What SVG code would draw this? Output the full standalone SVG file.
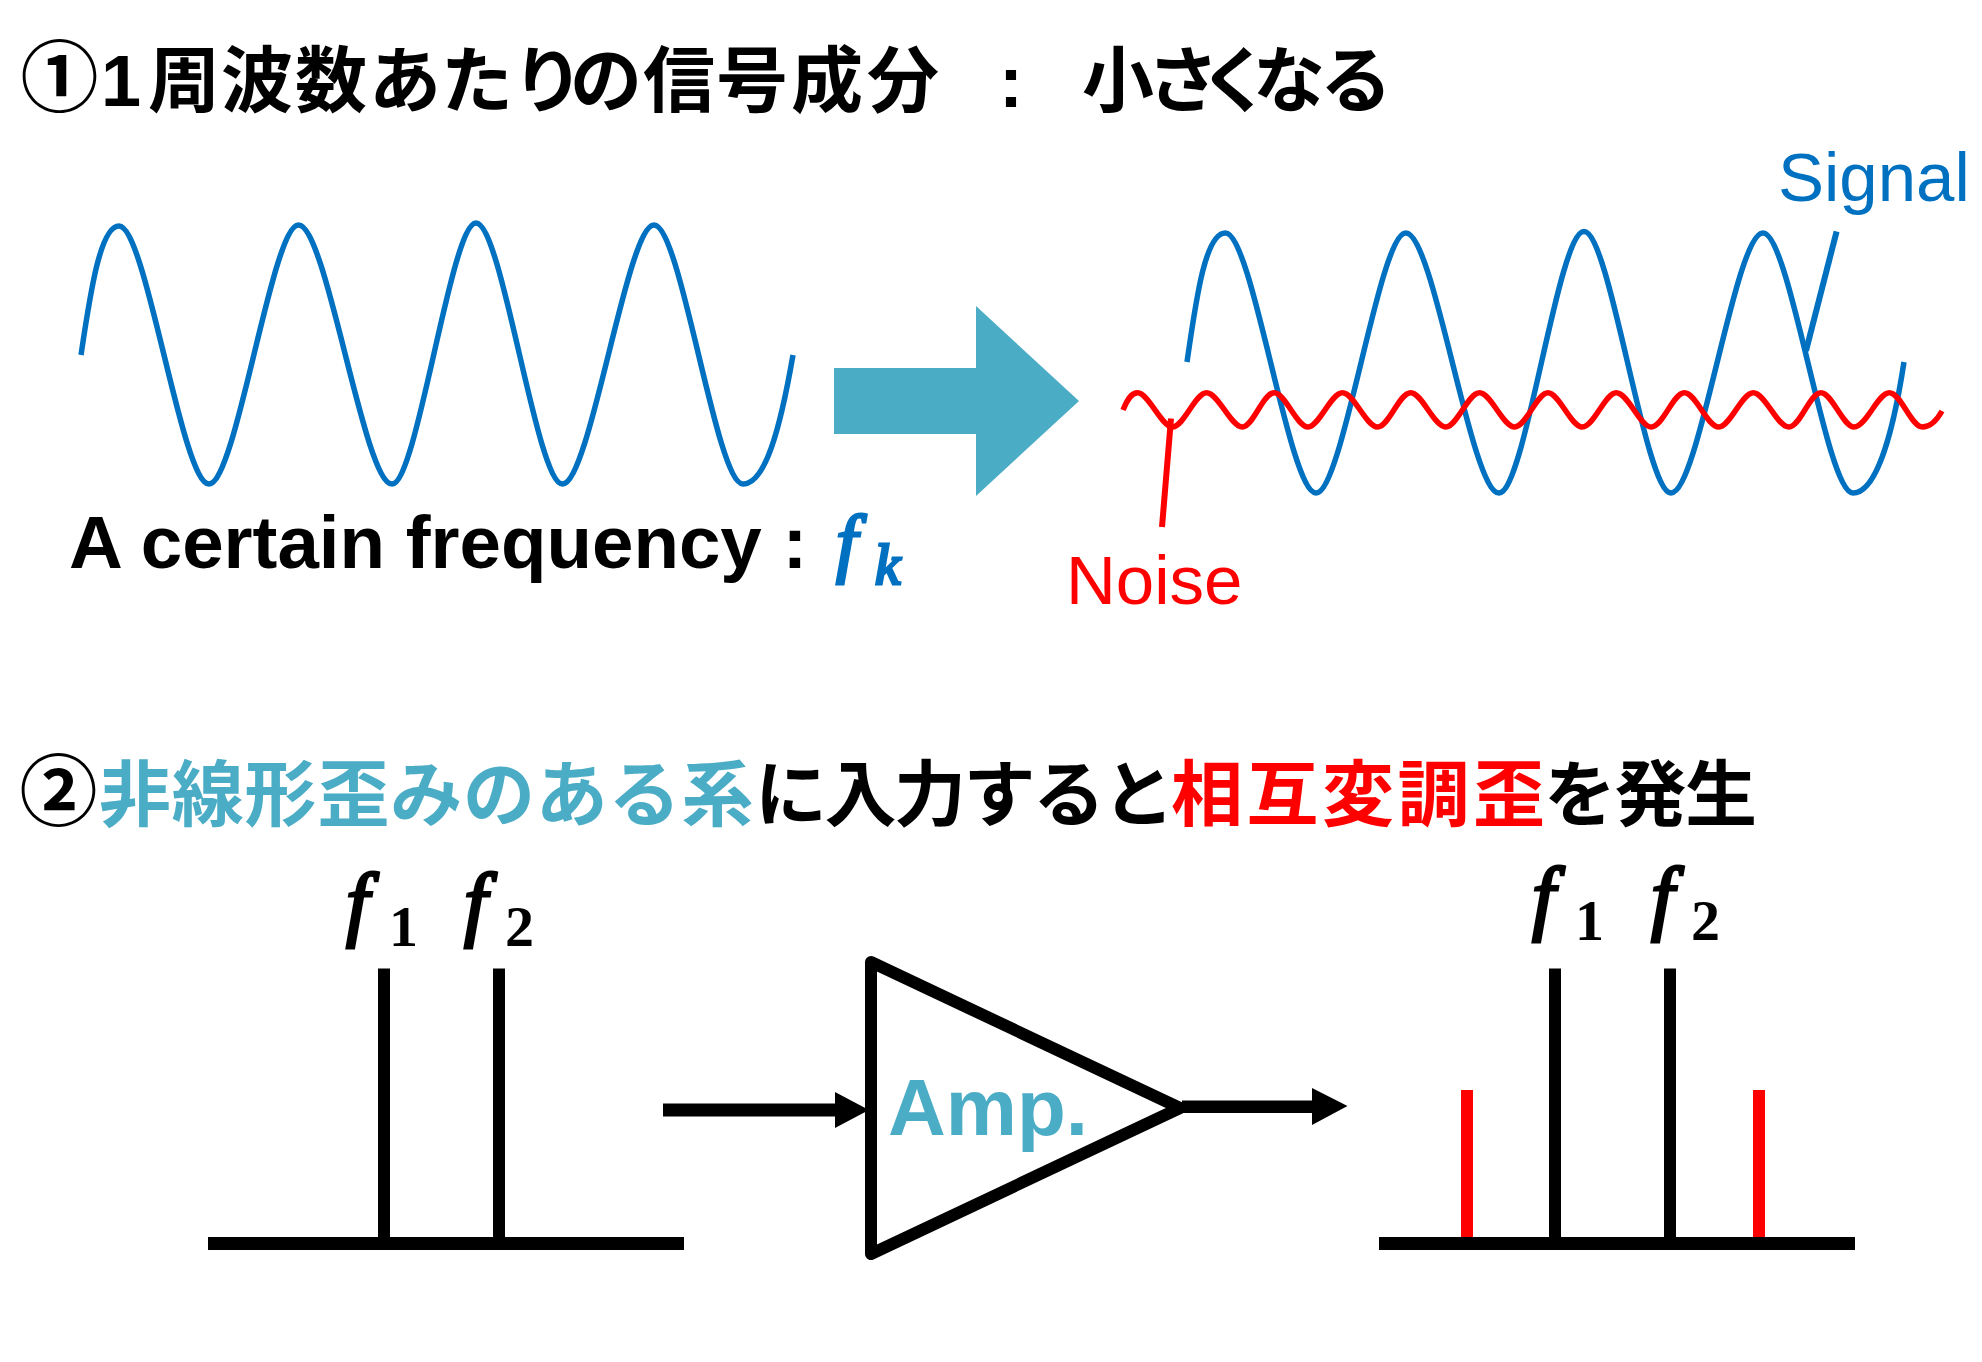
<svg xmlns="http://www.w3.org/2000/svg" width="1982" height="1362" viewBox="0 0 1982 1362">
<style>
.t{font-family:"Noto Sans CJK JP","Noto Sans",sans-serif;font-weight:700;font-size:72px;fill:#000}
.c{font-size:78px}
.teal{fill:#4BACC6}.red{fill:#FF0000}
.s{font-family:"Liberation Sans",Arial,sans-serif;font-size:69px}
.b{font-family:"Liberation Sans",Arial,sans-serif;font-weight:700}
.m{font-family:"Liberation Serif","Times New Roman",serif;font-style:italic;stroke-width:3}
.k{stroke:#000;fill:#000}
.bl{stroke:#0070C0;fill:#0070C0}
.d{font-family:"Liberation Serif","Times New Roman",serif;font-weight:700;font-size:58px}
.wave{fill:none;stroke:#0070C0;stroke-width:5.500}
.noise{fill:none;stroke:#FF0000;stroke-width:5.500}
.bar{stroke:#000;stroke-width:12;fill:none}
.base{stroke:#000;stroke-width:13;fill:none}
.rbar{stroke:#FF0000;stroke-width:12;fill:none}
</style>
<rect width="1982" height="1362" fill="#fff"/>
<g id="title1">
<text class="t c" x="20.500" y="106">①</text>
<text class="b" x="101" y="106" font-size="72">1</text>
<text class="t" y="106" x="148 221 295 369 441 512 570 643 716 791 867">周波数あたりの信号成分</text>
<text class="b" x="999" y="107" font-size="72">:</text>
<text class="t" y="106" x="1082 1147 1199 1253 1320">小さくなる</text>
</g>
<g id="wave-signal">
<path class="wave" d="M81 355C90 295 100 226 119 226C146 226 182 484 209 484C236 484 272 225 298.5 225C326.500 225 364 484 392 484C417 484 451 223 476 223C502 223 536.500 484 562.500 484C590 484 627 225 654 225C681 225 716 484 743 484C765 484 780 430 793 355"/>
<text class="b" x="69" y="568" font-size="74.500">A certain frequency :</text>
<text class="m bl" x="836" y="568" font-size="77">f</text>
<text class="m bl" x="875" y="584" font-size="57">k</text>
</g>
<g id="big-arrow"><polygon class="teal" points="834,368 976,368 976,306 1079,401 976,496 976,434 834,434"/></g>
<g id="wave-noisy">
<path class="wave" d="M1187 362C1196 300 1205 233 1225.4 233C1252.5 233 1289 493 1316 493C1343 493 1379 233 1405.8 233C1434 233 1471 493 1499 493C1525 493 1558 231.5 1584 231.5C1610 231.5 1645 493 1671 493C1699 493 1735 233 1763 233C1790 233 1826 493 1853 493C1875 493 1892 440 1904 362"/>
<path class="noise" d="M1123 410C1127 400 1131 392.7 1137.8 392.7C1148 392.7 1162 427 1172.2 427C1184 427 1195 392.7 1206.6 392.7C1218 392.7 1231 427 1242.3 427C1253 427 1263 392.7 1274.3 392.7C1285 392.7 1297 427 1308 427C1319 427 1331 392.7 1342.5 392.7C1354 392.7 1366 427 1377.6 427C1389 427 1399 392.7 1410.8 392.7C1422 392.7 1434 427 1445.8 427C1457 427 1468 392.7 1479.6 392.7C1491 392.7 1503 427 1514.7 427C1526 427 1537 392.7 1547.9 392.7C1559 392.7 1571 427 1582.3 427C1594 427 1605 392.7 1616.2 392.7C1628 392.7 1640 427 1651.2 427C1663 427 1673 392.7 1684.4 392.7C1696 392.7 1707 427 1718.8 427C1730 427 1742 392.7 1753.3 392.7C1765 392.7 1777 427 1789 427C1800 427 1810 392.7 1820.9 392.7C1832 392.7 1843 427 1854.1 427C1866 427 1878 392.7 1889.2 392.7C1901 392.7 1911 427 1922.4 427C1930 427 1937 420 1942 411"/>
<text class="s" x="1778" y="201" fill="#0070C0">Signal</text>
<text class="s red" x="1066" y="604">Noise</text>
</g>
<g id="connectors">
<line x1="1836.6" y1="231.5" x2="1806" y2="350.7" stroke="#0070C0" stroke-width="6"/>
<line x1="1171" y1="418.5" x2="1162" y2="527" stroke="#FF0000" stroke-width="6"/>
<polygon points="663,1103.500 835,1103.500 835,1092 869,1110 835,1128 835,1116.500 663,1116.500"/>
<polygon points="1182,1100.500 1312,1100.500 1312,1088 1347.500,1106 1312,1125 1312,1113 1182,1113"/>
</g>
<g id="title2">
<text class="t c" x="19.500" y="820">②</text>
<text class="t teal" x="99" y="820" letter-spacing="0.800">非線形歪みのある系</text>
<text class="t" x="755" y="820" letter-spacing="-2.500">に入力すると</text>
<text class="t red" x="1171" y="820" letter-spacing="3.500">相互変調歪</text>
<text class="t" x="1544" y="820" letter-spacing="-1.500">を発生</text>
</g>
<g id="spectrum-in">
<line class="bar" x1="384" y1="968.500" x2="384" y2="1240"/>
<line class="bar" x1="499" y1="968.500" x2="499" y2="1240"/>
<line class="base" x1="208" y1="1243.500" x2="684" y2="1243.500"/>
<text class="m k" x="346" y="930" font-size="83">f</text>
<text class="d" x="389" y="946">1</text>
<text class="m k" x="464" y="930" font-size="83">f</text>
<text class="d" x="505" y="946">2</text>
</g>
<g id="amp">
<polygon points="871,962 1180,1108 871,1254" fill="#fff" stroke="#000" stroke-width="12" stroke-linejoin="round"/>
<text class="b teal" x="888" y="1135" font-size="80">Amp.</text>
</g>
<g id="spectrum-out">
<line class="bar" x1="1555" y1="968.500" x2="1555" y2="1240"/>
<line class="bar" x1="1670" y1="968.500" x2="1670" y2="1240"/>
<line class="rbar" x1="1467" y1="1090" x2="1467" y2="1240"/>
<line class="rbar" x1="1759" y1="1090" x2="1759" y2="1240"/>
<line class="base" x1="1379" y1="1243.500" x2="1855" y2="1243.500"/>
<text class="m k" x="1532" y="924" font-size="83">f</text>
<text class="d" x="1575" y="940">1</text>
<text class="m k" x="1651" y="924" font-size="83">f</text>
<text class="d" x="1691" y="940">2</text>
</g>
</svg>
